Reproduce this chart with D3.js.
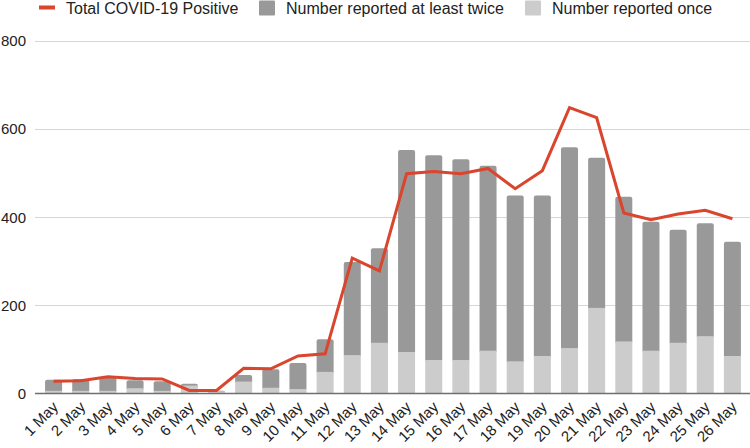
<!DOCTYPE html>
<html>
<head>
<meta charset="utf-8">
<script src="https://cdn.jsdelivr.net/npm/d3@7/dist/d3.min.js"></script>
<style>
  html, body { margin: 0; padding: 0; background: #fff; }
  svg { display: block; font-family: Arial, "Liberation Sans", sans-serif; }
</style>
</head>
<body>
<svg id="chart" width="750" height="448"></svg>
<script>
const categories = ["1 May","2 May","3 May","4 May","5 May","6 May","7 May","8 May","9 May","10 May","11 May","12 May","13 May","14 May","15 May","16 May","17 May","18 May","19 May","20 May","21 May","22 May","23 May","24 May","25 May","26 May"];
const reportedOnce = [6, 6, 6, 12, 6, 18, 5, 27, 13, 10, 49, 87, 115, 94, 76, 76, 97, 73, 85, 103, 194, 118, 97, 115, 130, 85];
const reportedTwice = [25, 27, 31, 18, 22, 4, 1, 15, 42, 59, 74, 211, 214, 458, 464, 455, 419, 376, 364, 455, 340, 328, 292, 256, 256, 259];
const totalPositive = [28, 29, 38, 34, 33, 7, 7, 57, 56, 85, 90, 307, 278, 498, 503, 498, 510, 464, 505, 648, 625, 409, 394, 407, 415, 396];
const yTicks = [0, 200, 400, 600, 800];
const legendLabels = ["Total COVID-19 Positive", "Number reported at least twice", "Number reported once"];

const colors = { line: "#d9452d", twice: "#999999", once: "#cccccc", grid: "#d6d6d6", base: "#6f6f6f", text: "#222222" };

const svg = d3.select("#chart");
const x = d3.scaleBand().domain(categories).range([40, 746]).paddingInner(0.374).paddingOuter(0.187);
const y = d3.scaleLinear().domain([0, 800]).range([393.5, 40.5]);

// gridlines
svg.append("g").selectAll("line").data(yTicks.filter(d => d > 0)).join("line")
  .attr("x1", 35).attr("x2", 750)
  .attr("y1", d => Math.round(y(d)) + 0.5).attr("y2", d => Math.round(y(d)) + 0.5)
  .attr("stroke", colors.grid).attr("stroke-width", 1);

// y labels
svg.append("g").selectAll("text").data(yTicks).join("text")
  .attr("x", 26).attr("y", d => y(d) + 5.5)
  .attr("text-anchor", "end").attr("font-size", 15).attr("fill", colors.text)
  .text(d => d);

// bars
const data = categories.map((c, i) => ({ c, once: reportedOnce[i], twice: reportedTwice[i] }));
const bars = svg.append("g");
bars.selectAll("rect.twice").data(data).join("rect")
  .attr("class", "twice")
  .attr("x", d => x(d.c)).attr("width", x.bandwidth())
  .attr("y", d => y(d.once + d.twice))
  .attr("height", d => Math.max(0, y(d.once) - y(d.once + d.twice)) + 2)
  .attr("rx", 2).attr("ry", 2)
  .attr("fill", colors.twice);
bars.selectAll("rect.once").data(data).join("rect")
  .attr("class", "once")
  .attr("x", d => x(d.c)).attr("width", x.bandwidth())
  .attr("y", d => y(d.once))
  .attr("height", d => y(0) - y(d.once))
  .attr("fill", colors.once);

// baseline
svg.append("line").attr("x1", 35).attr("x2", 750)
  .attr("y1", y(0)).attr("y2", y(0))
  .attr("stroke", colors.base).attr("stroke-width", 1.5);

// line
const line = d3.line().x((d, i) => x(categories[i]) + x.bandwidth() / 2).y(d => y(d));
svg.append("path").datum(totalPositive)
  .attr("d", line).attr("fill", "none")
  .attr("stroke", colors.line).attr("stroke-width", 3).attr("stroke-linejoin", "miter");

// x labels
svg.append("g").selectAll("text").data(categories).join("text")
  .attr("transform", d => `translate(${x(d) + x.bandwidth() / 2 + 5.5},${408}) rotate(-45)`)
  .attr("text-anchor", "end").attr("font-size", 15).attr("fill", colors.text)
  .text(d => d);

// legend
const lg = svg.append("g");
lg.append("rect").attr("x", 39).attr("y", 5.5).attr("width", 16).attr("height", 4).attr("fill", colors.line);
lg.append("text").attr("x", 66).attr("y", 13.5).attr("font-size", 16).attr("fill", colors.text).text(legendLabels[0]);
lg.append("rect").attr("x", 259).attr("y", 0.5).attr("width", 16).attr("height", 15).attr("rx", 1).attr("fill", colors.twice);
lg.append("text").attr("x", 286).attr("y", 13.5).attr("font-size", 16).attr("fill", colors.text).text(legendLabels[1]);
lg.append("rect").attr("x", 525).attr("y", 0.5).attr("width", 16).attr("height", 15).attr("rx", 1).attr("fill", colors.once);
lg.append("text").attr("x", 552).attr("y", 13.5).attr("font-size", 16).attr("fill", colors.text).text(legendLabels[2]);
</script>
</body>
</html>
